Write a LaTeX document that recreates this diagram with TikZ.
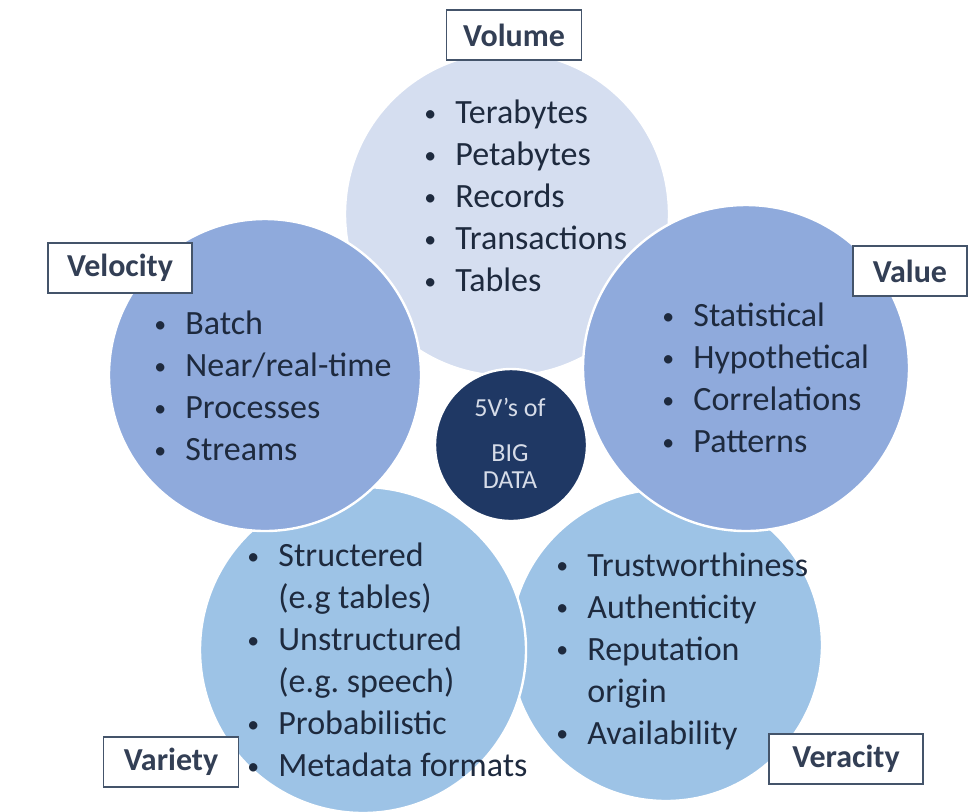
\documentclass[tikz,border=0pt]{standalone}
\usepackage{fontspec}
\setmainfont{Carlito}
\usepackage{tikz}
\usetikzlibrary{positioning}
\frenchspacing

\definecolor{volfill}{HTML}{D5DEF0}
\definecolor{velfill}{HTML}{8FAADC}
\definecolor{varfill}{HTML}{9DC3E6}
\definecolor{hubfill}{HTML}{1F3864}
\definecolor{hubtext}{HTML}{D6DCE8}
\definecolor{itemtext}{HTML}{1E2A3E}
\definecolor{tagline}{HTML}{44546A}
\definecolor{tagtext}{HTML}{333F55}

\newcommand{\vitem}{\makebox[16.5pt][l]{\hspace*{1pt}\raisebox{0.07em}{\scalebox{0.7}{•}}}}
\newcommand{\vcont}{\hspace*{16.5pt}}

\begin{document}
\begin{tikzpicture}[x=0.5pt, y=-0.5pt,
  vee/.style={circle, draw=white, line width=1.2pt, inner sep=0pt},
  tag/.style={draw=tagline, fill=white, line width=0.9pt, text=tagtext,
    font=\bfseries\fontsize{16}{19}\selectfont, inner sep=0pt, minimum height=25pt},
  items/.style={anchor=west, align=left, inner sep=0pt, text=itemtext,
    font=\fontsize{17}{21}\selectfont},
]
\useasboundingbox (0,0) rectangle (979,811);

%% Circles, back to front
\node[vee, fill=volfill, minimum size=162pt] (volume) at (507,214) {};
\node[vee, fill=varfill, minimum size=156pt] (veracity) at (666,645) {};
\node[vee, fill=varfill, minimum size=163pt] (variety) at (363,650) {};
\node[vee, fill=velfill, minimum size=156pt] (velocity) at (265,375) {};
\node[vee, fill=velfill, minimum size=163pt] (value) at (746,368) {};

%% Hub
\node[vee, fill=hubfill, minimum size=76pt] (hub) at (511,445) {};
\node[align=center, text=hubtext, font=\fontsize{13}{13.5}\selectfont]
  (hubtxt) at (510,443) {5V’s of\\[9pt]BIG\\DATA};

%% Bullet lists
\node[items] (volitems) at (422,196)
  {\vitem Terabytes\\ \vitem Petabytes\\ \vitem Records\\ \vitem Transactions\\ \vitem Tables};
\node[items] (velitems) at (152,386)
  {\vitem Batch\\ \vitem Near/real-time\\ \vitem Processes\\ \vitem Streams};
\node[items] (valitems) at (660,378)
  {\vitem Statistical\\ \vitem Hypothetical\\ \vitem Correlations\\ \vitem Patterns};
\node[items] (varitems) at (245,660)
  {\vitem Structered\\ \vcont(e.g tables)\\ \vitem Unstructured\\ \vcont(e.g. speech)\\
   \vitem Probabilistic\\ \vitem Metadata formats};
\node[items] (veritems) at (554,651)
  {\vitem Trustworthiness\\ \vitem Authenticity\\ \vitem Reputation\\ \vcont origin\\
   \vitem Availability};

%% Tags
\node[tag, minimum width=67.5pt] (voltag) at (514,35) {Volume};
\node[tag, minimum width=72pt] (veltag) at (120,268) {Velocity};
\node[tag, minimum width=57pt] (valtag) at (910,271) {Value};
\node[tag, minimum width=67.5pt] (vartag) at (171,762) {Variety};
\node[tag, minimum width=77pt] (vertag) at (846,759) {Veracity};

\end{tikzpicture}
\end{document}
